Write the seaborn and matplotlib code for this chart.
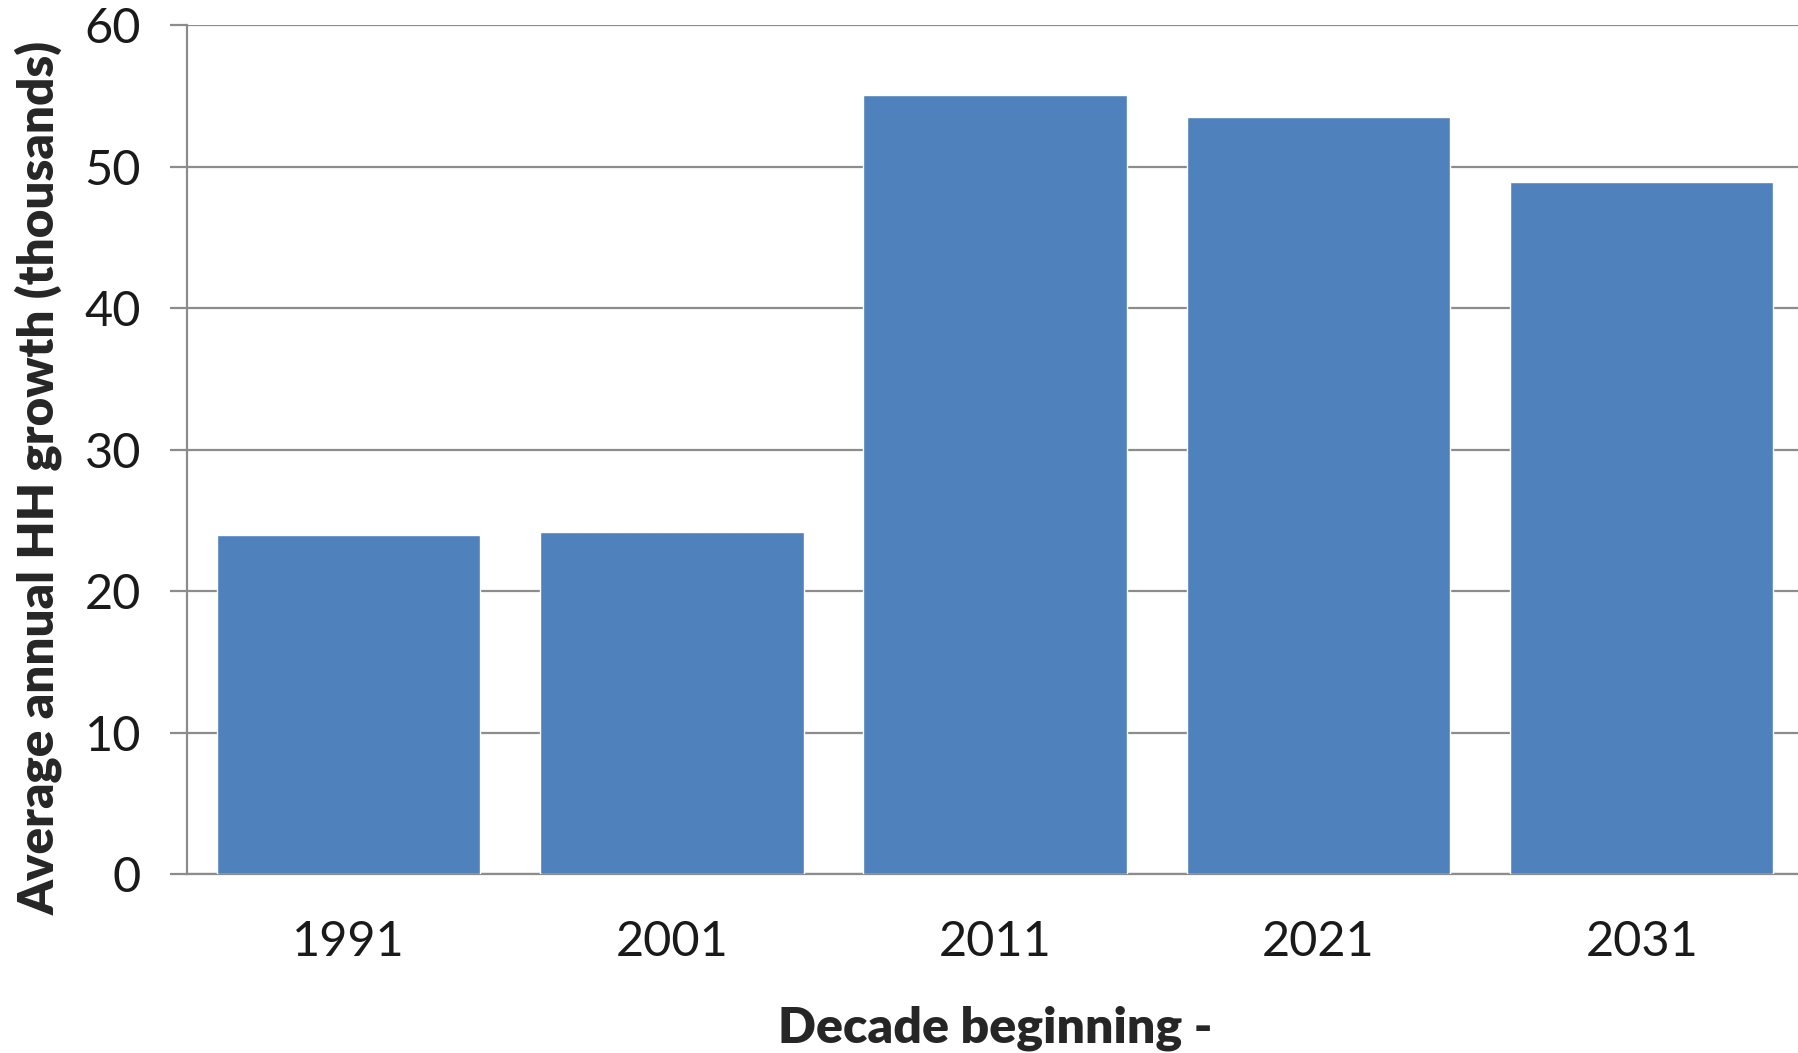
import numpy as np
import pandas as pd
import matplotlib
matplotlib.use("Agg")
import matplotlib.pyplot as plt
import seaborn as sns

# values
decades = ["1991", "2001", "2011", "2021", "2031"]
hh_growth = [24.0, 24.2, 55.1, 53.5, 48.9]

df = pd.DataFrame({"decade": decades, "growth": hh_growth})

sns.set_style("white")
plt.rcParams['font.family'] = ['Lato', 'DejaVu Sans']

grid_col = "#8c8c8c"
bar_col = "#4f81bd"

fig = plt.figure(figsize=(17.98, 10.53), dpi=100)
ax = fig.add_axes([0.104, 0.170, 0.899, 0.806])

sns.barplot(data=df, x="decade", y="growth", color=bar_col, width=0.815,
            saturation=1, ax=ax, zorder=3)

ax.set_xlim(-0.5, len(decades) - 0.5)
ax.set_ylim(0, 60)
ax.set_yticks(np.arange(0, 61, 10))
ax.yaxis.grid(True, color=grid_col, linewidth=1.6, zorder=0)
ax.set_axisbelow(True)

for s in ["top", "right"]:
    ax.spines[s].set_visible(False)
for s in ["left", "bottom"]:
    ax.spines[s].set_color(grid_col)
    ax.spines[s].set_linewidth(1.6)

# category boundaries carry the tick marks on the x axis
ax.set_xticks(np.arange(-0.5, len(decades), 1.0), minor=True)
ax.tick_params(axis="x", which="major", length=0, pad=33, labelsize=35, labelcolor="#1a1a1a")
ax.tick_params(axis="x", which="minor", length=12, width=1.6, color=grid_col, direction="out")
ax.tick_params(axis="y", length=12, width=1.6, color=grid_col, direction="out",
               pad=21, labelsize=35, labelcolor="#1a1a1a", left=True)

ax.set_xlabel("Decade beginning -", fontsize=36, fontweight="heavy", labelpad=30)
ax.set_ylabel("Average annual HH growth (thousands)", fontsize=35.5, fontweight="heavy")
ax.yaxis.set_label_coords(-0.077, 0.466)

fig.savefig("out.png", dpi=100)
